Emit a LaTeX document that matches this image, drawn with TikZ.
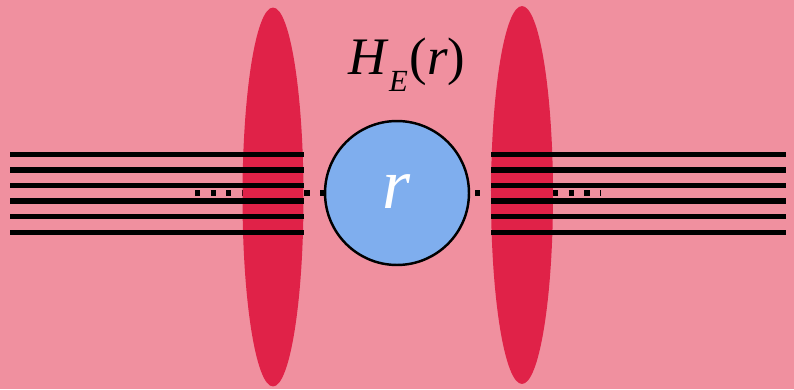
\documentclass[tikz,border=0pt]{standalone}
\usepackage{fontspec}
\setmainfont{Liberation Serif}
\usetikzlibrary{shapes.geometric}

\definecolor{bgpink}{HTML}{F0909F}
\definecolor{lensred}{HTML}{E02248}
\definecolor{ballblue}{HTML}{7FAEEE}

\begin{document}
\begin{tikzpicture}[
        x=0.02cm, y=-0.02cm,
        lens/.style={ellipse, fill=lensred, inner sep=0pt},
        ball/.style={circle, draw, line width=1.4pt, fill=ballblue, minimum size=2.88cm, inner sep=0pt},
        wire/.style={line width=2.9pt},
        gap/.style={line width=2.9pt, dash pattern=on 2.9pt off 6pt}
    ]

    \fill[bgpink] (0,0) rectangle (794,389);

    % dotted continuation behind the lenses
    \draw[gap] (195,193) -- (330,193);
    \draw[gap] (475,193) -- (601,193);

    \node[lens, minimum width=1.22cm, minimum height=7.58cm] (LensL) at (273,197) {};
    \node[lens, minimum width=1.24cm, minimum height=7.56cm] (LensR) at (522,195) {};

    \foreach \y in {154.3, 170, 185.7, 201, 216.7, 232.3} {
        \draw[wire] (10,\y) -- (304,\y);
        \draw[wire] (491,\y) -- (786,\y);
    }

    \node[ball] (Ball) at (397,193) {};
    \node[text=white, font=\fontsize{41}{44}\selectfont\itshape, inner sep=0pt, anchor=base] (BallText) at (397,208) {r};
    \node[font=\fontsize{30}{33}\selectfont, inner sep=0pt, anchor=base] (Label) at (407,74)
        {\textit{H}\raisebox{-10pt}{\fontsize{17.5}{19}\selectfont\textit{E}\kern1pt}(\textit{r})};

\end{tikzpicture}
\end{document}
